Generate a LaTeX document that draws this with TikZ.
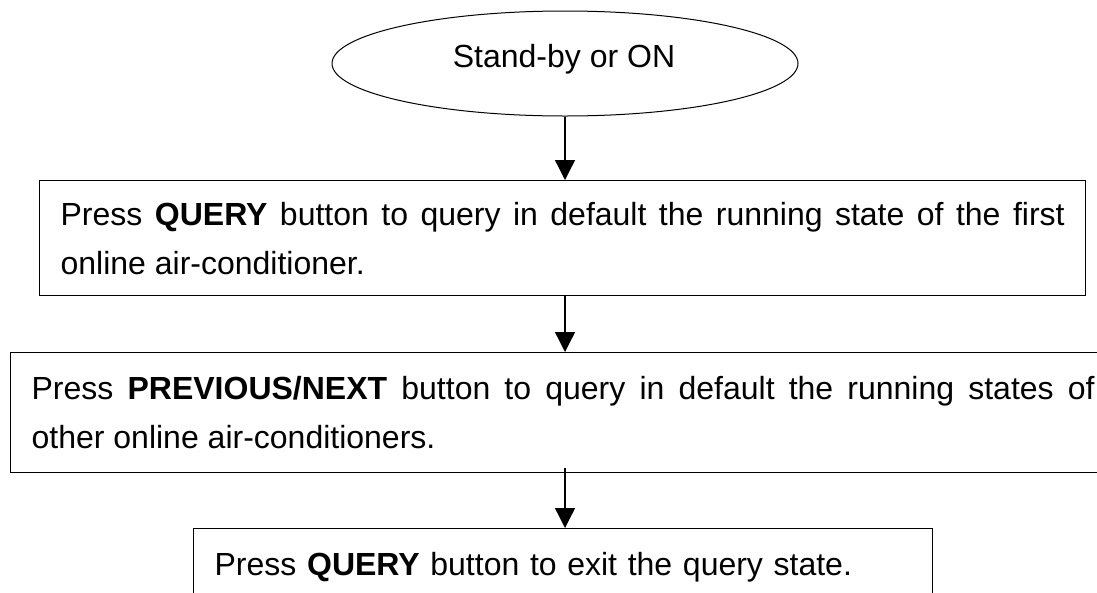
\documentclass[tikz,border=0pt]{standalone}
\usepackage{fontspec}
\setmainfont{Liberation Sans}
\usetikzlibrary{arrows.meta,shapes.geometric}
\hyphenpenalty=10000
\exhyphenpenalty=10000
\begin{document}
\begin{tikzpicture}[x=1pt,y=-1pt,
  every node/.style={font=\fontsize{32}{49}\selectfont},
  flowbox/.style={draw,line width=1.3pt,rectangle,anchor=north west,inner xsep=21pt,inner ysep=0pt,align=justify},
  flowarrow/.style={line width=1.3pt,-{Triangle[width=20pt,length=20pt]}}]
\useasboundingbox (0,0) rectangle (1097,592);
\node[draw,ellipse,line width=1pt,minimum width=466pt,minimum height=105pt,inner sep=0pt] (start) at (565,63.5) {};
\node[anchor=base,inner sep=0pt] (starttext) at (564,67) {Stand-by or ON};
\node[flowbox,text width=1004pt,minimum height=115pt] (b1) at (39,180) {Press \textbf{QUERY} button to query in default the running state of the first\linebreak online air-conditioner.};
\node[flowbox,text width=1063pt,minimum height=120pt] (b2) at (10,352) {Press \textbf{PREVIOUS/NEXT} button to query in default the running states of\linebreak other online air-conditioners.};
\node[flowbox,text width=697pt,minimum height=78pt,align=left] (b3) at (193,528) {Press \textbf{QUERY} button to exit the query state.};
\draw[flowarrow] (start.south) -- (start.south |- b1.north);
\draw[flowarrow] (start.south |- b1.south) -- (start.south |- b2.north);
\draw[flowarrow] (start.south |- b2.south) ++(0,-5) -- (start.south |- b3.north);
\end{tikzpicture}
\end{document}
